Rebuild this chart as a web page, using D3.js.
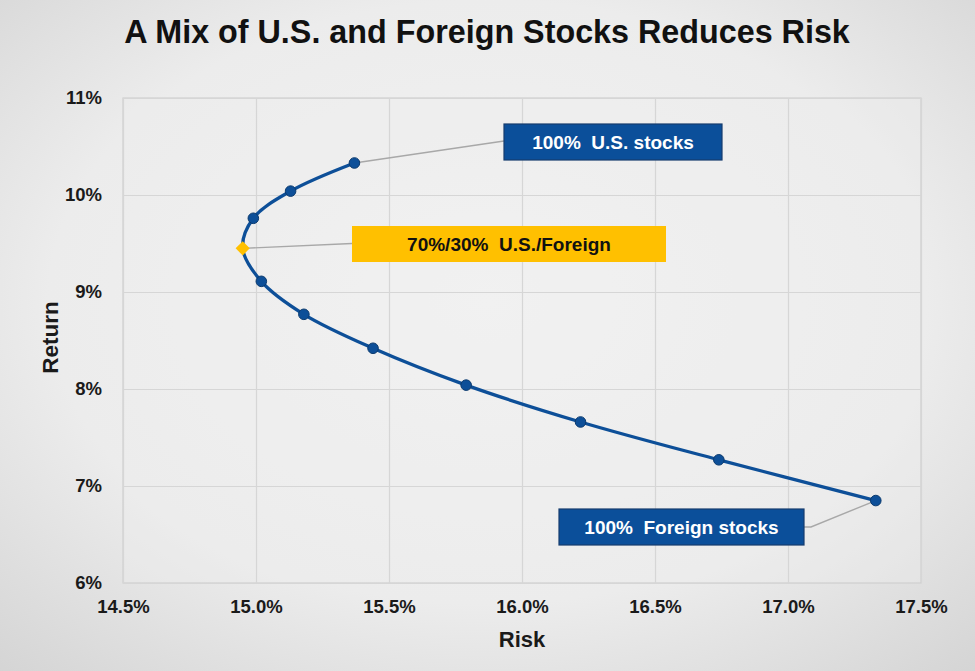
<!DOCTYPE html>
<html>
<head>
<meta charset="utf-8">
<script src="https://cdn.jsdelivr.net/npm/d3@7"></script>
<style>
  html, body { margin: 0; padding: 0; background: #ececec; }
  svg { display: block; font-family: "Liberation Sans", Arial, sans-serif; }
</style>
</head>
<body>
<svg id="chart" width="975" height="671"></svg>
<script>
// ---- Data ----
const mixes   = ["100/0", "90/10", "80/20", "70/30", "60/40", "50/50", "40/60", "30/70", "20/80", "10/90", "0/100"];
const riskPct   = [15.37, 15.13, 14.99, 14.95, 15.02, 15.18, 15.44, 15.79, 16.22, 16.74, 17.33];
const returnPct = [10.33, 10.04, 9.76, 9.45, 9.11, 8.77, 8.42, 8.04, 7.66, 7.27, 6.85];
const highlightMix = "70/30";
const xTicks = [14.5, 15.0, 15.5, 16.0, 16.5, 17.0, 17.5];
const yTicks = [6, 7, 8, 9, 10, 11];
const titleText = "A Mix of U.S. and Foreign Stocks Reduces Risk";
const xTitle = "Risk";
const yTitle = "Return";
const calloutTexts = ["100%  U.S. stocks", "70%/30%  U.S./Foreign", "100%  Foreign stocks"];
const calloutMixes = ["100/0", "70/30", "0/100"];

// ---- Layout ----
const W = 975, H = 671;
const plot = { left: 123, right: 921, top: 98, bottom: 583 };
const svg = d3.select("#chart");

const defs = svg.append("defs");
const grad = defs.append("radialGradient").attr("id", "bg")
  .attr("cx", "50%").attr("cy", "45%").attr("r", "75%");
grad.append("stop").attr("offset", "0%").attr("stop-color", "#f3f3f3");
grad.append("stop").attr("offset", "60%").attr("stop-color", "#ececec");
grad.append("stop").attr("offset", "100%").attr("stop-color", "#d4d4d4");
svg.append("rect").attr("width", W).attr("height", H).attr("fill", "url(#bg)");

const x = d3.scaleLinear().domain([14.5, 17.5]).range([plot.left, plot.right]);
const y = d3.scaleLinear().domain([6, 11]).range([plot.bottom, plot.top]);

// plot area
svg.append("rect")
  .attr("x", plot.left).attr("y", plot.top)
  .attr("width", plot.right - plot.left).attr("height", plot.bottom - plot.top)
  .attr("fill", "#efefef").attr("fill-opacity", 0.35)
  .attr("stroke", "#cfcfcf").attr("stroke-width", 1.2);

// gridlines via axes
const gx = svg.append("g").attr("transform", `translate(0,${plot.bottom})`)
  .call(d3.axisBottom(x).tickValues(xTicks).tickSize(-(plot.bottom - plot.top)).tickFormat(d => d3.format(".1f")(d) + "%").tickPadding(17));
const gy = svg.append("g").attr("transform", `translate(${plot.left},0)`)
  .call(d3.axisLeft(y).tickValues(yTicks).tickSize(-(plot.right - plot.left)).tickFormat(d => d + "%").tickPadding(21));
[gx, gy].forEach(g => {
  g.select(".domain").remove();
  g.selectAll(".tick line").attr("stroke", "#d6d6d6").attr("stroke-width", 1.2);
  g.selectAll(".tick text").attr("fill", "#1a1a1a").attr("font-size", 18.5).attr("font-weight", "bold")
    .attr("font-family", "'Liberation Sans', Arial, sans-serif");
});

// title
svg.append("text").attr("x", 487).attr("y", 43).attr("text-anchor", "middle")
  .attr("font-size", 32.3).attr("font-weight", "bold").attr("fill", "#111").text(titleText);

// axis titles
svg.append("text").attr("x", 522).attr("y", 647).attr("text-anchor", "middle")
  .attr("font-size", 22).attr("font-weight", "bold").attr("fill", "#1a1a1a").text(xTitle);
svg.append("text").attr("transform", `translate(58,${(plot.top + plot.bottom) / 2 - 3}) rotate(-90)`)
  .attr("text-anchor", "middle")
  .attr("font-size", 22.5).attr("font-weight", "bold").attr("fill", "#1a1a1a").text(yTitle);

const pts = mixes.map((m, i) => ({ mix: m, risk: riskPct[i], ret: returnPct[i] }));
const byMix = m => pts.find(p => p.mix === m);

// callout leader lines (drawn first, below markers)
const leaders = svg.append("g").attr("fill", "none").attr("stroke", "#a8a8a8").attr("stroke-width", 1.4);

// frontier curve
const line = d3.line().x(d => x(d.risk)).y(d => y(d.ret)).curve(d3.curveCatmullRom.alpha(0.5));
svg.append("path").datum(pts).attr("d", line)
  .attr("fill", "none").attr("stroke", "#0d4f98").attr("stroke-width", 3.3);

// markers
svg.append("g").selectAll("circle").data(pts.filter(p => p.mix !== highlightMix)).join("circle")
  .attr("cx", d => x(d.risk)).attr("cy", d => y(d.ret)).attr("r", 5.3)
  .attr("fill", "#0d4f98").attr("stroke", "#0b3a6e").attr("stroke-width", 1);
const hp = byMix(highlightMix);
svg.append("path")
  .attr("d", d3.symbol().type(d3.symbolDiamond2).size(128)())
  .attr("transform", `translate(${x(hp.risk)},${y(hp.ret)})`)
  .attr("fill", "#ffc000");

// callout boxes
const boxes = [
  { mix: calloutMixes[0], text: calloutTexts[0], bx: 504, by: 124, bw: 218, bh: 36, fill: "#0b4f9a", stroke: "#173d6e", color: "#fff", anchor: "left" },
  { mix: calloutMixes[1], text: calloutTexts[1], bx: 352, by: 226, bw: 314, bh: 36, fill: "#ffc000", stroke: "none", color: "#111", anchor: "left" },
  { mix: calloutMixes[2], text: calloutTexts[2], bx: 559, by: 509, bw: 245, bh: 36, fill: "#0b4f9a", stroke: "#173d6e", color: "#fff", anchor: "right" }
];
boxes.forEach(b => {
  const p = byMix(b.mix);
  const px = x(p.risk), py = y(p.ret);
  if (b.anchor === "left") {
    const ly = b.mix === highlightMix ? b.by + b.bh / 2 - 0.5 : b.by + 17;
    leaders.append("path").attr("d", `M${px},${py}L${b.bx},${ly}`);
  } else {
    const ly = b.by + b.bh / 2;
    leaders.append("path").attr("d", `M${b.bx + b.bw},${ly}L${b.bx + b.bw + 7},${ly}L${px},${py}`);
  }
  svg.append("rect").attr("x", b.bx).attr("y", b.by).attr("width", b.bw).attr("height", b.bh)
    .attr("fill", b.fill).attr("stroke", b.stroke).attr("stroke-width", 1.2);
  svg.append("text").attr("x", b.bx + b.bw / 2).attr("y", b.by + b.bh / 2).attr("dy", "0.36em")
    .attr("text-anchor", "middle").attr("font-size", 19).attr("font-weight", "bold")
    .attr("fill", b.color).attr("xml:space", "preserve").style("white-space", "pre").text(b.text);
});
</script>
</body>
</html>
